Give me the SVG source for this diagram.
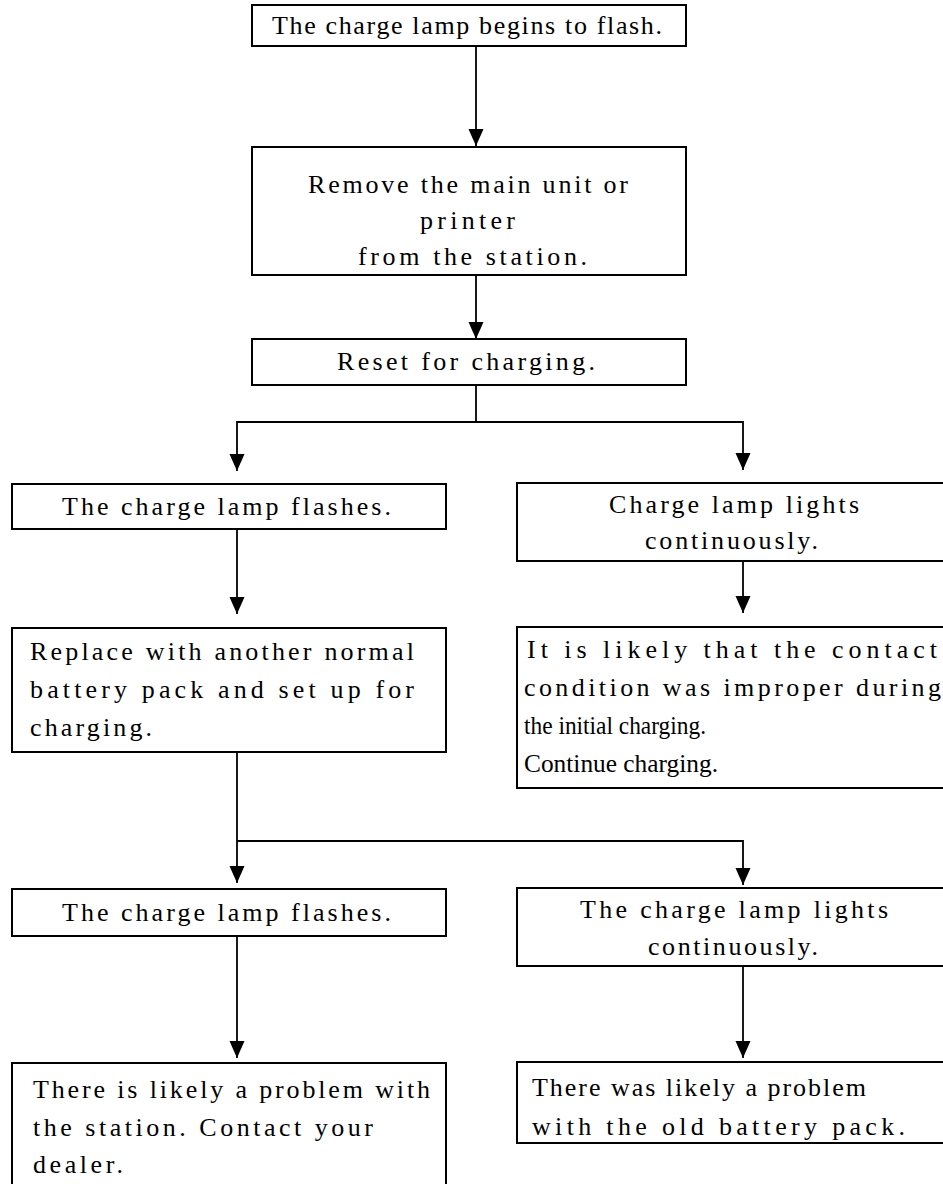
<svg xmlns="http://www.w3.org/2000/svg" width="943" height="1184" viewBox="0 0 943 1184">
<style>
.box{fill:#fff;stroke:#000;stroke-width:2}
.t{font-family:"Liberation Serif","Times New Roman",serif;font-size:26px;fill:#000}
.c{fill:none;stroke:#000;stroke-width:1.8}
</style>
<defs>
<marker id="ah" markerUnits="userSpaceOnUse" markerWidth="16" markerHeight="16" refX="17" refY="7.5" orient="auto">
<path d="M0,0 L17,7.5 L0,15 Z" fill="#000"/>
</marker>
</defs>
<rect width="943" height="1184" fill="#fff"/>
<g id="connectors">
<path class="c" d="M476,46 V146" marker-end="url(#ah)"/>
<path class="c" d="M476,275 V339" marker-end="url(#ah)"/>
<path class="c" d="M476,385 V422"/>
<path class="c" d="M476,422 H237 V471" marker-end="url(#ah)"/>
<path class="c" d="M476,422 H743 V470" marker-end="url(#ah)"/>
<path class="c" d="M237,529 V614" marker-end="url(#ah)"/>
<path class="c" d="M743,561 V613" marker-end="url(#ah)"/>
<path class="c" d="M237,752 V883" marker-end="url(#ah)"/>
<path class="c" d="M237,841 H743 V885" marker-end="url(#ah)"/>
<path class="c" d="M237,936 V1058" marker-end="url(#ah)"/>
<path class="c" d="M743,966 V1058" marker-end="url(#ah)"/>
</g>
<g id="n1">
<rect class="box" x="252" y="5" width="434" height="41"/>
<text class="t" x="272" y="34" textLength="390" lengthAdjust="spacing">The charge lamp begins to flash.</text>
</g>
<g id="n2">
<rect class="box" x="252" y="147" width="434" height="128"/>
<text class="t" x="308" y="193" textLength="320" lengthAdjust="spacing">Remove the main unit or</text>
<text class="t" x="420" y="229" textLength="95" lengthAdjust="spacing">printer</text>
<text class="t" x="358" y="265" textLength="229" lengthAdjust="spacing">from the station.</text>
</g>
<g id="n3">
<rect class="box" x="252" y="339" width="434" height="46"/>
<text class="t" x="337" y="370" textLength="258" lengthAdjust="spacing">Reset for charging.</text>
</g>
<g id="n4">
<rect class="box" x="12" y="484" width="434" height="45"/>
<text class="t" x="62" y="515" textLength="329" lengthAdjust="spacing">The charge lamp flashes.</text>
</g>
<g id="n5">
<rect class="box" x="517" y="483" width="440" height="78"/>
<text class="t" x="609" y="513" textLength="250" lengthAdjust="spacing">Charge lamp lights</text>
<text class="t" x="645" y="549" textLength="173" lengthAdjust="spacing">continuously.</text>
</g>
<g id="n6">
<rect class="box" x="12" y="628" width="434" height="124"/>
<text class="t" x="30" y="660" textLength="384" lengthAdjust="spacing">Replace with another normal</text>
<text class="t" x="30" y="698" textLength="384" lengthAdjust="spacing">battery pack and set up for</text>
<text class="t" x="30" y="736" textLength="122" lengthAdjust="spacing">charging.</text>
</g>
<g id="n7">
<rect class="box" x="517" y="627" width="440" height="161"/>
<text class="t" x="527" y="658" textLength="410" lengthAdjust="spacing">It is likely that the contact</text>
<text class="t" x="524" y="696" textLength="417" lengthAdjust="spacing">condition was improper during</text>
<text class="t" x="524" y="734" textLength="182" lengthAdjust="spacingAndGlyphs">the initial charging.</text>
<text class="t" x="524" y="772" textLength="194" lengthAdjust="spacingAndGlyphs">Continue charging.</text>
</g>
<g id="n8">
<rect class="box" x="12" y="889" width="434" height="47"/>
<text class="t" x="62" y="921" textLength="329" lengthAdjust="spacing">The charge lamp flashes.</text>
</g>
<g id="n9">
<rect class="box" x="517" y="888" width="440" height="78"/>
<text class="t" x="580" y="918" textLength="308" lengthAdjust="spacing">The charge lamp lights</text>
<text class="t" x="648" y="955" textLength="170" lengthAdjust="spacing">continuously.</text>
</g>
<g id="n10">
<rect class="box" x="12" y="1063" width="434" height="140"/>
<text class="t" x="33" y="1098" textLength="397" lengthAdjust="spacing">There is likely a problem with</text>
<text class="t" x="33" y="1136" textLength="340" lengthAdjust="spacing">the station. Contact your</text>
<text class="t" x="33" y="1173" textLength="90" lengthAdjust="spacing">dealer.</text>
</g>
<g id="n11">
<rect class="box" x="517" y="1062" width="440" height="81"/>
<text class="t" x="532" y="1096" textLength="334" lengthAdjust="spacing">There was likely a problem</text>
<text class="t" x="532" y="1135" textLength="373" lengthAdjust="spacing">with the old battery pack.</text>
</g>
</svg>
